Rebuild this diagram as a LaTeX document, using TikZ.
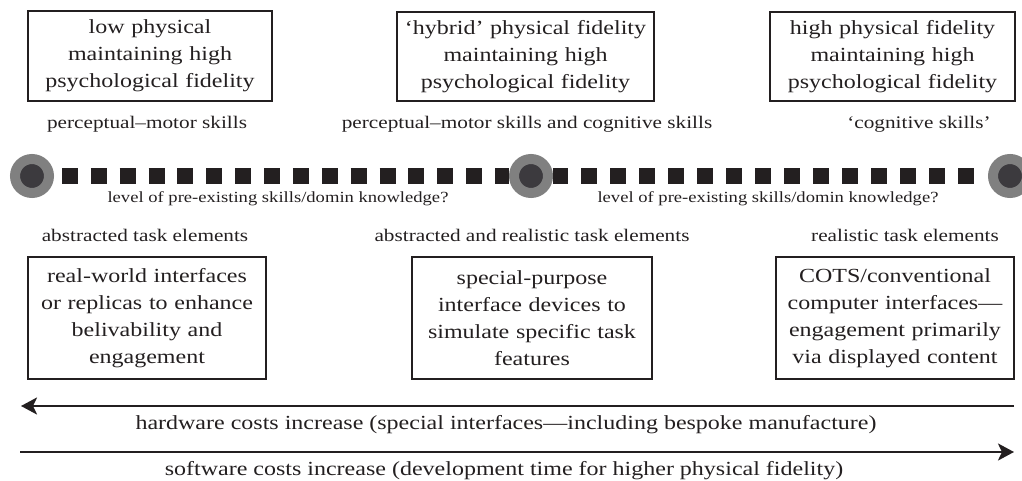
\documentclass[tikz,border=0pt]{standalone}
\usepackage{fontspec}
\setmainfont{Liberation Serif}[FakeStretch=1.2]
\usetikzlibrary{arrows.meta}
\definecolor{ink}{HTML}{231F20}
\definecolor{ringgray}{HTML}{808080}
\definecolor{coregray}{HTML}{3C3A3E}
\tikzset{
  fidbox/.style={draw=ink, line width=1.1pt, inner sep=0pt, align=center,
    font=\fontsize{20}{27}\selectfont, text=ink},
  lbl/.style={anchor=base, inner sep=0pt, text=ink, font=\fontsize{17.7}{22}\selectfont},
  smalllbl/.style={anchor=base, inner sep=0pt, text=ink, font=\fontsize{15.5}{19}\selectfont},
  costlbl/.style={anchor=base, inner sep=0pt, text=ink, font=\fontsize{20}{24}\selectfont},
  dot/.style={circle, fill=coregray, draw=ringgray, line width=10pt,
    minimum size=34pt, inner sep=0pt},
  squareline/.style={ink, line width=16pt},
  costarrow/.style={ink, line width=2.4pt,
    -{Stealth[length=16pt, width=17pt, inset=4pt]}}
}
\begin{document}
\begin{tikzpicture}[x=1pt, y=-1pt]
\useasboundingbox (0,0) rectangle (1022,481);

% top boxes
\node[fidbox, minimum width=244pt, minimum height=90pt, text width=236pt] (t1) at (150,56)
  {low physical\\maintaining high\\psychological fidelity};
\node[fidbox, minimum width=257pt, minimum height=89pt, text width=250pt] (t2) at (525.5,56.5)
  {‘hybrid’ physical fidelity\\maintaining high\\psychological fidelity};
\node[fidbox, minimum width=245pt, minimum height=89pt, text width=238pt] (t3) at (892.5,56.5)
  {high physical fidelity\\maintaining high\\psychological fidelity};

% skill labels
\node[lbl] (s1) at (147,129) {perceptual–motor skills};
\node[lbl] (s2) at (527,129) {perceptual–motor skills and cognitive skills};
\node[lbl] (s3) at (919,129) {‘cognitive skills’};

% continuum
\node[dot] (c1) at (32,176) {};
\node[dot] (c2) at (531,176) {};
\node[dot] (c3) at (1010,176) {};
\draw[squareline, dash pattern=on 16pt off 12.87pt, dash phase=20.87pt] (c1) -- (c2);
\draw[squareline, dash pattern=on 16pt off 13pt, dash phase=1pt, shorten >=2pt] (c2) -- (c3);

\node[smalllbl] (k1) at (278,203) {level of pre-existing skills/domin knowledge?};
\node[smalllbl] (k2) at (768,203) {level of pre-existing skills/domin knowledge?};

% task element labels
\node[lbl] (e1) at (145,241) {abstracted task elements};
\node[lbl] (e2) at (532,241) {abstracted and realistic task elements};
\node[lbl] (e3) at (905,241) {realistic task elements};

% bottom boxes
\node[fidbox, minimum width=238pt, minimum height=122pt, text width=230pt] (b1) at (147,318)
  {real-world interfaces\\or replicas to enhance\\belivability and\\engagement};
\node[fidbox, minimum width=240pt, minimum height=122pt, text width=232pt] (b2) at (532,318)
  {special-purpose\\interface devices to\\simulate specific task\\features};
\node[fidbox, minimum width=238pt, minimum height=122pt, text width=230pt] (b3) at (895,318)
  {COTS/conventional\\computer interfaces—\\engagement primarily\\via displayed content};

% cost arrows
\coordinate (hwR) at (1014,406);
\coordinate (hwL) at (21,406);
\draw[costarrow] (hwR) -- (hwL);
\node[costlbl] (hw) at (506,429) {hardware costs increase (special interfaces—including bespoke manufacture)};

\coordinate (swL) at (20,452);
\coordinate (swR) at (1014,452);
\draw[costarrow] (swL) -- (swR);
\node[costlbl] (sw) at (504,475) {software costs increase (development time for higher physical fidelity)};
\end{tikzpicture}
\end{document}
